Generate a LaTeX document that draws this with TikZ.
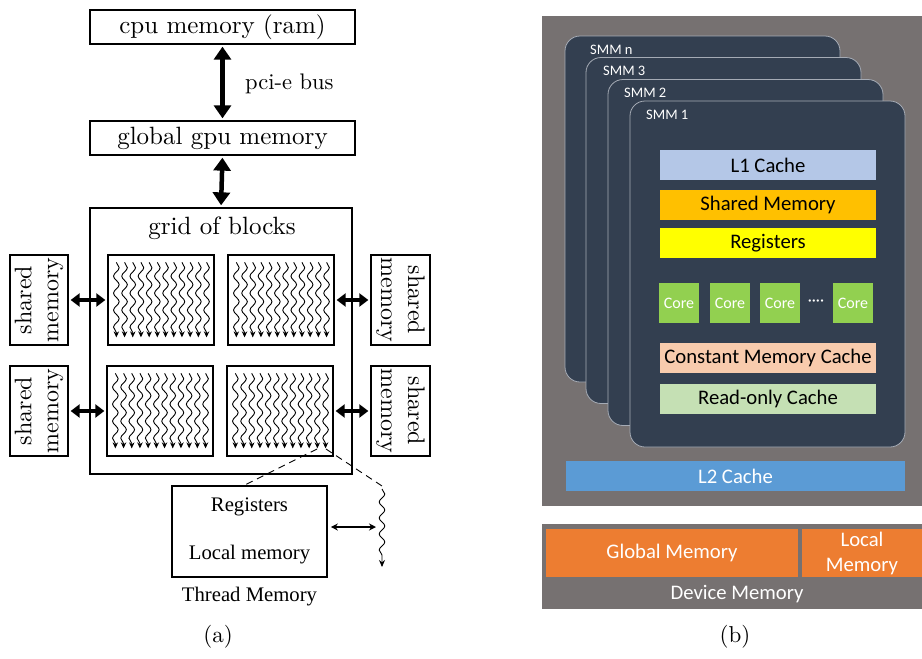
\documentclass[tikz,border=0pt]{standalone}
\usepackage{fontspec}
\usetikzlibrary{arrows.meta,decorations.pathmorphing,calc}
\setmainfont{lmroman10-regular}[Extension=.otf]
\newfontfamily\tnrfont{Liberation Serif}
\newfontfamily\calfont{Carlito}
\definecolor{devgray}{HTML}{767171}
\definecolor{smmfill}{HTML}{333F50}
\definecolor{smmedge}{HTML}{A5ABB5}
\definecolor{lonecol}{HTML}{B4C7E7}
\definecolor{shmcol}{HTML}{FFC000}
\definecolor{regcol}{HTML}{FFFF00}
\definecolor{corecol}{HTML}{92D050}
\definecolor{constcol}{HTML}{F8CBAD}
\definecolor{rocol}{HTML}{C5E0B4}
\definecolor{ltwocol}{HTML}{5B9BD5}
\definecolor{globcol}{HTML}{ED7D31}
\begin{document}
\begin{tikzpicture}[x=1pt,y=-1pt,
  memfont/.style={font=\fontsize{25}{29}\selectfont},
  membox/.style={draw, line width=1.3pt, inner sep=0pt, memfont},
  blockbox/.style={draw, line width=1.3pt, inner sep=0pt, minimum width=106pt, minimum height=90pt},
  shbox/.style={draw, line width=1.3pt, inner sep=0pt, minimum width=58pt, minimum height=90pt},
  bigarrow/.style={line width=4.5pt, {Triangle[length=13pt,width=17pt]}-{Triangle[length=13pt,width=17pt]}},
  midarrow/.style={line width=3.5pt, {Triangle[length=9pt,width=13pt]}-{Triangle[length=9pt,width=13pt]}},
  thread/.style={line width=0.9pt, -{Stealth[length=6pt,width=5.5pt]},
    decorate, decoration={snake, amplitude=2.8pt, segment length=17pt, post length=4pt}},
  smmbox/.style={draw=smmedge, line width=0.8pt, fill=smmfill, rounded corners=15pt,
    minimum width=275pt, minimum height=346pt, inner sep=0pt},
  smmlabel/.style={text=white, anchor=west, inner sep=0pt, font=\calfont\fontsize{14.5}{17}\selectfont},
  unit/.style={inner sep=0pt, minimum width=216pt, minimum height=30pt, font=\calfont\fontsize{20.7}{24}\selectfont},
  corebox/.style={fill=corecol, text=white, inner sep=0pt, minimum width=40pt, minimum height=40pt, font=\calfont\fontsize{16}{19}\selectfont},
  caplabel/.style={font=\fontsize{23}{27}\selectfont}
]
\useasboundingbox (0,0) rectangle (922,659);

% ---------------- (a) CUDA memory hierarchy ----------------
\node[membox, minimum width=265pt, minimum height=34pt] (cpu) at (222.5,27) {cpu memory (ram)};
\node[membox, minimum width=265pt, minimum height=34pt] (gpu) at (222.5,138) {global gpu memory};
\node[draw, line width=1.3pt, inner sep=0pt, minimum width=262pt, minimum height=266pt] (grid) at (221,341) {};
\node[memfont, anchor=center] (gridlbl) at (222,228) {grid of blocks};

\draw[bigarrow, shorten <=2pt, shorten >=2pt] (cpu.south) -- (gpu.north);
\node[font=\fontsize{22.5}{27}\selectfont, anchor=west, inner sep=0pt] (pci) at (245,84) {pci-e bus};
\draw[bigarrow, shorten <=2pt, shorten >=2pt] (gpu.south) -- (grid.north);

% thread blocks
\node[blockbox] (b11) at (161,300) {};
\node[blockbox] (b12) at (281,300) {};
\node[blockbox] (b21) at (160,411) {};
\node[blockbox] (b22) at (280,411) {};
\foreach \b in {b11,b12,b21,b22}{
  \foreach \i in {0,...,11}{
    \draw[thread] ($(\b.north west)+(9+\i*8.2,8)$) -- ++(0,75);
  }
}

% shared memories
\node[shbox] (sml1) at (39,300) {};
\node[shbox] (sml2) at (39,411) {};
\node[shbox, minimum width=59pt] (smr1) at (400.5,300) {};
\node[shbox, minimum width=59pt] (smr2) at (400.5,411) {};
\foreach \s in {sml1,sml2}
  \node[rotate=90, align=center, font=\fontsize{24}{27}\selectfont] at (\s.center) {shared\\memory};
\foreach \s in {smr1,smr2}
  \node[rotate=-90, align=center, font=\fontsize{24}{27}\selectfont] at (\s.center) {shared\\memory};

\draw[midarrow, shorten <=2pt, shorten >=2pt] (sml1.east) -- (b11.west);
\draw[midarrow, shorten <=2pt, shorten >=2pt] (sml2.east) -- (b21.west);
\draw[midarrow, shorten <=2pt, shorten >=2pt] (smr1.west) -- (b12.east);
\draw[midarrow, shorten <=2pt, shorten >=2pt] (smr2.west) -- (b22.east);

% zoom into one thread
\node[draw, line width=1.6pt, inner sep=0pt, minimum width=155pt, minimum height=91pt] (tm) at (249.5,531.5) {};
\node[font=\tnrfont\fontsize{20.7}{24}\selectfont] (treg) at (249.5,507) {Registers};
\node[font=\tnrfont\fontsize{20.7}{24}\selectfont] (tloc) at (249.5,555) {Local memory};
\node[font=\tnrfont\fontsize{20.7}{24}\selectfont] (tcap) at (249.5,597) {Thread Memory};

\coordinate (zl) at (317,449);
\coordinate (zr) at (326,449);
\coordinate (wtop) at (382,486);
\coordinate (wbot) at (382,567);
\coordinate (wmid) at (382,527);
\draw[dashed, line width=0.9pt, dash pattern=on 7pt off 5pt] (zl) -- ($(tm.north)+(-5,0)$);
\draw[dashed, line width=0.9pt, dash pattern=on 7pt off 5pt] (zr) -- (wtop);
\draw[line width=0.9pt, -{Stealth[length=7pt,width=6pt]}, decorate,
  decoration={snake, amplitude=2.8pt, segment length=16pt, post length=5pt}] ($(wtop)+(0,3)$) -- (wbot);
\draw[line width=1.3pt, {Stealth[length=7pt,width=7pt]}-{Stealth[length=7pt,width=7pt]}]
  ($(tm.east)+(3,-4.5)$) -- ($(wmid)+(-6,0)$);

\node[caplabel] (capa) at (218,637) {(a)};

% ---------------- (b) GPU memory architecture ----------------
\node[fill=devgray, inner sep=0pt, minimum width=380pt, minimum height=490pt] (chip) at (732,261) {};

\node[smmbox] (smmn) at (702.5,209) {};
\node[smmlabel] at (590,50) {SMM n};
\node[smmbox] (smm3) at (723.5,230.5) {};
\node[smmlabel] at (603,71) {SMM 3};
\node[smmbox] (smm2) at (745.5,252.5) {};
\node[smmlabel] at (624,93) {SMM 2};
\node[smmbox] (smm1) at (767.5,274) {};
\node[smmlabel] at (646,115) {SMM 1};

\node[unit, fill=lonecol] (l1) at (768,165) {L1 Cache};
\node[unit, fill=shmcol] (shm) at (768,205) {Shared Memory};
\node[unit, fill=regcol] (reg) at (768,243) {Registers};
\node[corebox] (c1) at (679,303) {Core};
\node[corebox] (c2) at (730,303) {Core};
\node[corebox] (c3) at (780,303) {Core};
\node[corebox] (c4) at (853,303) {Core};
\node[text=white, inner sep=0pt, font=\calfont\fontsize{16}{19}\selectfont] (cdots) at (816,303) {····};
\node[unit, fill=constcol] (cmc) at (768,358) {Constant Memory Cache};
\node[unit, fill=rocol] (roc) at (768,399) {Read-only Cache};

\node[unit, fill=ltwocol, text=white, minimum width=339pt] (l2) at (735.5,476) {L2 Cache};

\node[fill=devgray, inner sep=0pt, minimum width=380pt, minimum height=85pt] (dev) at (732,566.5) {};
\node[fill=globcol, text=white, inner sep=0pt, minimum width=252pt, minimum height=48pt,
  font=\calfont\fontsize{20.7}{24}\selectfont] (glob) at (672,553) {Global Memory};
\node[fill=globcol, text=white, inner sep=0pt, minimum width=120pt, minimum height=48pt, align=center,
  font=\calfont\fontsize{20.7}{25}\selectfont] (locm) at (862,553) {Local\\Memory};
\node[text=white, inner sep=0pt, font=\calfont\fontsize{20.7}{24}\selectfont] (devlbl) at (737,594) {Device Memory};

\node[caplabel] (capb) at (735,637) {(b)};
\end{tikzpicture}
\end{document}
